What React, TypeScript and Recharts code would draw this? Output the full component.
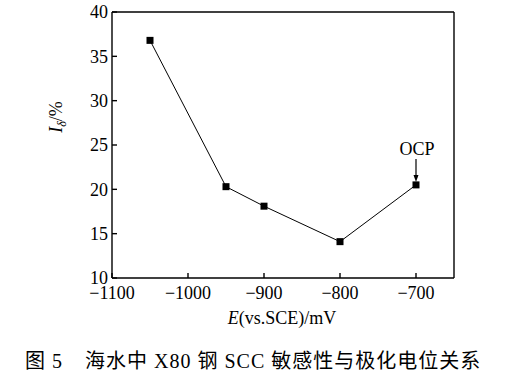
import React from 'react';
import {
  LineChart,
  Line,
  XAxis,
  YAxis,
  ReferenceDot,
  ReferenceLine,
} from 'recharts';

// 极化电位 E (mV vs. SCE) 与 SCC 敏感性 Iδ (%)
const potentials = [-1050, -950, -900, -800, -700];
const sensitivity = [36.8, 20.3, 18.1, 14.1, 20.5];
const xTicks = [-1100, -1000, -900, -800, -700];
const yTicks = [10, 15, 20, 25, 30, 35, 40];

const data = potentials.map((e, i) => ({ e, iDelta: sensitivity[i] }));

const FONT = '"Liberation Serif", "Times New Roman", serif';
const CJK = '"Liberation Serif", "Noto Sans CJK SC", serif';

const minus = (v: number) => String(v).replace('-', '\u2212');

const SquareDot = (props: any) => {
  const { cx, cy } = props;
  if (cx == null || cy == null) return null;
  return <rect x={cx - 3.5} y={cy - 3.5} width={7} height={7} fill="#000" />;
};

const OcpMark = (props: any) => {
  const { cx, cy } = props;
  return (
    <g>
      <text x={cx + 1} y={cy - 30} textAnchor="middle" fontFamily={FONT} fontSize={18} fill="#000">
        OCP
      </text>
      <line x1={cx} y1={cy - 26} x2={cx} y2={cy - 9} stroke="#000" strokeWidth={1.2} />
      <path d={`M${cx - 2.5},${cy - 10} L${cx + 2.5},${cy - 10} L${cx},${cy - 3} Z`} fill="#000" />
    </g>
  );
};

const YLabel = () => (
  <text
    x={62}
    y={117}
    transform="rotate(-90, 62, 117)"
    textAnchor="middle"
    fontFamily={FONT}
    fontSize={18}
    fill="#000"
  >
    <tspan fontStyle="italic">I</tspan>
    <tspan fontStyle="italic" fontSize={12} dy={4}>δ</tspan>
    <tspan dy={-4}>/%</tspan>
  </text>
);

const XLabel = () => (
  <text x={282} y={324} textAnchor="middle" fontFamily={FONT} fontSize={18} fill="#000">
    <tspan fontStyle="italic">E</tspan>
    <tspan>(vs.SCE)/mV</tspan>
  </text>
);

export default function App() {
  return (
    <div style={{ position: 'absolute', left: 0, top: 0, width: 522, height: 382, background: '#fff' }}>
      <LineChart
        width={522}
        height={340}
        data={data}
        margin={{ top: 12, right: 68, left: 52, bottom: 12 }}
      >
        <XAxis
          dataKey="e"
          type="number"
          domain={[-1100, -650]}
          ticks={xTicks}
          tickFormatter={minus}
          allowDataOverflow
          height={50}
          stroke="#000"
          strokeWidth={1.4}
          tickSize={-5}
          tickMargin={13}
          tick={{ fill: '#000', fontFamily: FONT, fontSize: 18 }}
          label={{ content: () => <XLabel /> }}
        />
        <YAxis
          type="number"
          domain={[10, 40]}
          ticks={yTicks}
          width={60}
          stroke="#000"
          strokeWidth={1.4}
          tickSize={-5}
          tickMargin={9}
          tick={{ fill: '#000', fontFamily: FONT, fontSize: 18 }}
          label={{ content: () => <YLabel /> }}
        />
        {/* frame: top and right edges */}
        <ReferenceLine y={40} stroke="#000" strokeWidth={1.4} />
        <ReferenceLine x={-650} stroke="#000" strokeWidth={1.4} />
        <Line
          type="linear"
          dataKey="iDelta"
          stroke="#000"
          strokeWidth={1}
          dot={<SquareDot />}
          activeDot={false}
          isAnimationActive={false}
        />
        <ReferenceDot x={-700} y={20.5} r={0} shape={<OcpMark />} />
      </LineChart>
      <div
        style={{
          position: 'absolute',
          top: 345,
          left: 25,
          fontFamily: CJK,
          fontSize: 20,
          letterSpacing: 1,
          color: '#000',
          whiteSpace: 'pre',
        }}
      >
        {'图 5'}
      </div>
      <div
        style={{
          position: 'absolute',
          top: 345,
          left: 85,
          fontFamily: CJK,
          fontSize: 20,
          letterSpacing: 1,
          color: '#000',
          whiteSpace: 'pre',
        }}
      >
        {'海水中 X80 钢 SCC 敏感性与极化电位关系'}
      </div>
    </div>
  );
}
